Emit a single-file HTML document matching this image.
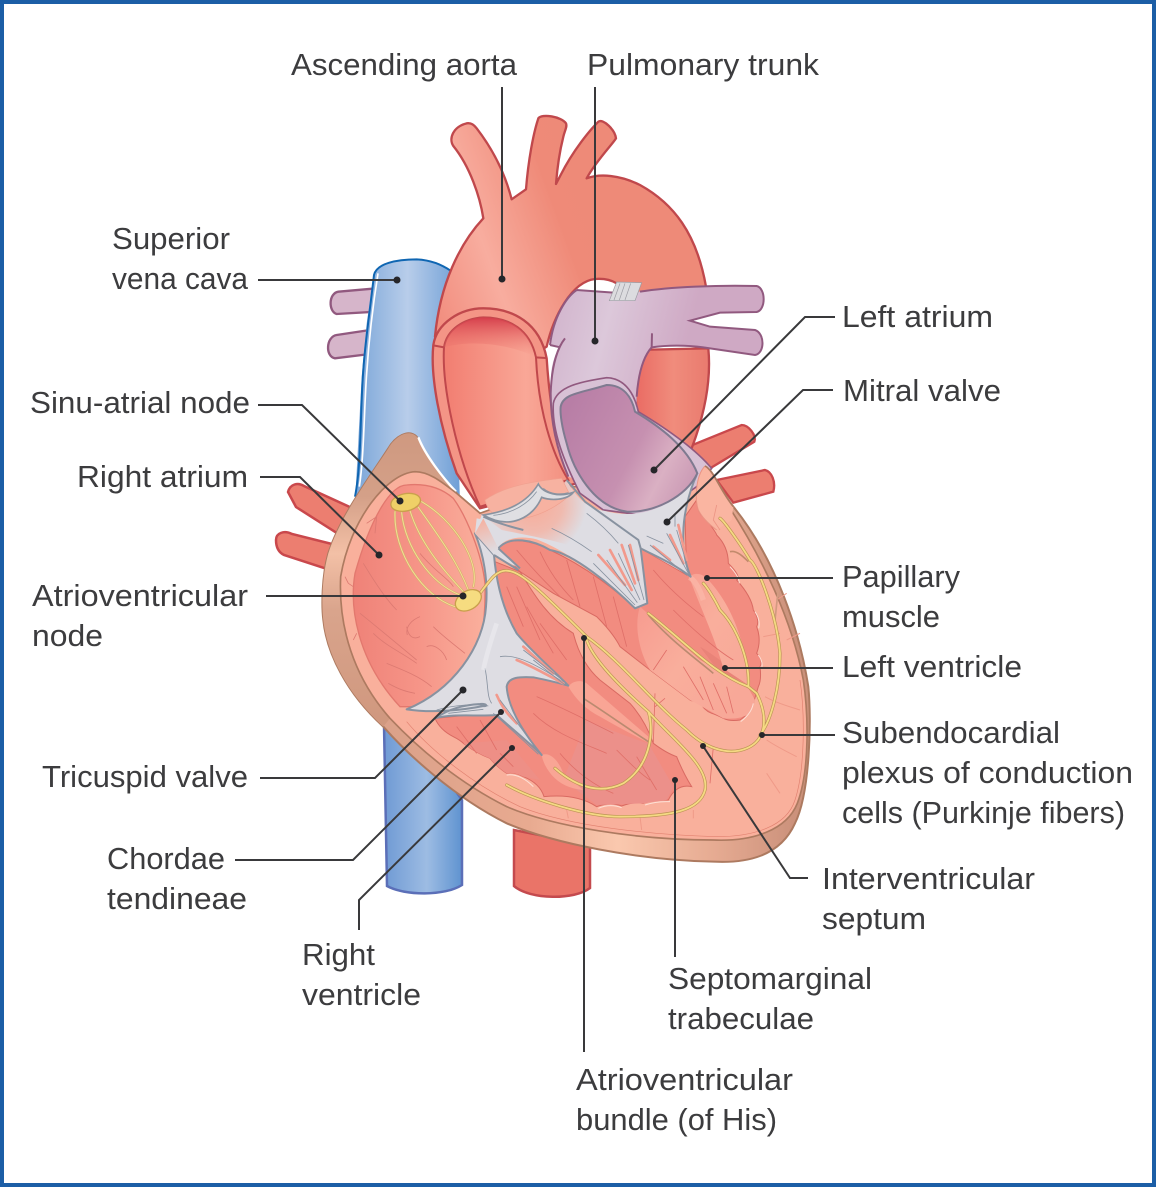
<!DOCTYPE html>
<html><head><meta charset="utf-8"><style>
html,body{margin:0;padding:0;background:#fff}
svg{display:block}
text{font-family:"Liberation Sans",sans-serif;font-size:31px;fill:#3c3c3e}
</style></head><body>
<svg width="1156" height="1187" viewBox="0 0 1156 1187" xmlns="http://www.w3.org/2000/svg">
<defs>
<linearGradient id="blue" x1="0" x2="1" y1="0" y2="0"><stop offset="0" stop-color="#7ba6d8"/><stop offset=".5" stop-color="#b8cdea"/><stop offset="1" stop-color="#6f9fd6"/></linearGradient>
<linearGradient id="blue2" x1="0" x2="1" y1="0" y2="0"><stop offset="0" stop-color="#6f9ad4"/><stop offset=".55" stop-color="#9dbce3"/><stop offset="1" stop-color="#5f93d0"/></linearGradient>
<linearGradient id="arch" gradientUnits="userSpaceOnUse" x1="350" y1="600" x2="900" y2="400"><stop offset="0" stop-color="#f28f80"/><stop offset=".34" stop-color="#f8ad9f"/><stop offset=".75" stop-color="#ef8a78"/><stop offset="1" stop-color="#ee8a78"/></linearGradient>
<linearGradient id="lumen" gradientUnits="userSpaceOnUse" x1="380" y1="900" x2="720" y2="900"><stop offset="0" stop-color="#f27f72"/><stop offset=".7" stop-color="#f9a797"/><stop offset="1" stop-color="#f49484"/></linearGradient>
<linearGradient id="lumtop" x1="0" x2="0" y1="0" y2="1"><stop offset="0" stop-color="#d53f4c"/><stop offset="1" stop-color="#ef7f74" stop-opacity="0"/></linearGradient>
<linearGradient id="desc" gradientUnits="userSpaceOnUse" x1="950" y1="900" x2="1170" y2="900"><stop offset="0" stop-color="#ea6c64"/><stop offset=".5" stop-color="#f08c7c"/><stop offset="1" stop-color="#e97a6e"/></linearGradient>
<linearGradient id="lil" gradientUnits="userSpaceOnUse" x1="700" y1="600" x2="1100" y2="700"><stop offset="0" stop-color="#d2b5cd"/><stop offset=".4" stop-color="#dcc8da"/><stop offset="1" stop-color="#cfa9c4"/></linearGradient>
<linearGradient id="purple" gradientUnits="userSpaceOnUse" x1="740" y1="900" x2="1120" y2="1100"><stop offset="0" stop-color="#b87ea6"/><stop offset=".55" stop-color="#c690b0"/><stop offset=".8" stop-color="#dab0c3"/><stop offset="1" stop-color="#cc9cb6"/></linearGradient>
<linearGradient id="rim" gradientUnits="userSpaceOnUse" x1="100" y1="0" x2="1420" y2="0"><stop offset="0" stop-color="#d89f88"/><stop offset=".4" stop-color="#e8aa90"/><stop offset=".6" stop-color="#fac8ae"/><stop offset=".82" stop-color="#e6ab92"/><stop offset="1" stop-color="#cc927c"/></linearGradient>
<linearGradient id="crest" gradientUnits="userSpaceOnUse" x1="0" y1="40" x2="0" y2="900"><stop offset="0" stop-color="#cf9980"/><stop offset=".22" stop-color="#d4a088"/><stop offset=".42" stop-color="#f3c0a6"/><stop offset=".62" stop-color="#d9a48c"/><stop offset="1" stop-color="#d0987f"/></linearGradient>
<linearGradient id="ra" gradientUnits="userSpaceOnUse" x1="100" y1="0" x2="500" y2="0"><stop offset="0" stop-color="#ef8278"/><stop offset=".5" stop-color="#f69588"/><stop offset="1" stop-color="#fab09d"/></linearGradient>
<radialGradient id="fade" gradientUnits="userSpaceOnUse" cx="640" cy="250" r="160"><stop offset="0" stop-color="#f8ab98"/><stop offset=".55" stop-color="#f8ab98" stop-opacity=".7"/><stop offset="1" stop-color="#f8ab98" stop-opacity="0"/></radialGradient>
<linearGradient id="fade2" gradientUnits="userSpaceOnUse" x1="470" y1="290" x2="510" y2="400"><stop offset="0" stop-color="#f8ab98"/><stop offset="1" stop-color="#f8ab98" stop-opacity="0"/></linearGradient>
<linearGradient id="pap" gradientUnits="userSpaceOnUse" x1="960" y1="560" x2="1280" y2="800"><stop offset="0" stop-color="#f79c90"/><stop offset=".5" stop-color="#f9ae9c"/><stop offset="1" stop-color="#f8a898"/></linearGradient>
</defs>
<rect x="2" y="2" width="1152" height="1183" fill="#fff" stroke="#1c5ea6" stroke-width="4"/>

<!-- IVC and descending aorta -->
<path d="M384 725 L387 886 C405 896 445 896 462 885 L462 800 L420 740 Z" fill="url(#blue2)" stroke="#5b6fb8" stroke-width="2.5"/>
<path d="M514 830 L514 886 C530 900 575 900 590 888 L590 845 Z" fill="#ea7468" stroke="#c44a4e" stroke-width="2.5"/>

<path d="M288 492 C290 484 298 482 304 486 L352 508 L340 535 L296 507 Z" fill="#ec7e70" stroke="#c9484c" stroke-width="2.5"/>
<path d="M276 540 C276 533 284 530 292 534 L340 546 L330 570 L284 555 C278 552 276 546 276 540 Z" fill="#ec7e70" stroke="#c9484c" stroke-width="2.5"/>

<g transform="translate(320,110) scale(.33333)">
 <path d="M170 535 L55 545 C25 550 25 605 50 612 L170 605 Z" fill="#d6b5ca" stroke="#91597f" stroke-width="7"/>
 <path d="M150 660 L50 675 C18 680 15 740 45 745 L150 732 Z" fill="#d6b5ca" stroke="#91597f" stroke-width="7"/>
 <path d="M162 490 C170 460 230 448 290 448 C340 450 370 465 400 485 L420 1180 L105 1180 L125 800 L140 640 Z" fill="url(#blue)"/>
 <path d="M105 1160 C125 1060 120 900 130 780 C135 700 150 600 162 495 C170 460 230 448 290 448 C335 450 365 465 392 482" fill="none" stroke="#0f66b2" stroke-width="6"/>
 <path d="M118 1130 C132 1040 132 900 140 790 C146 700 158 590 174 490" fill="none" stroke="#fff" stroke-width="5"/>
 <path d="M1105 1010 L1265 945 C1285 945 1310 975 1303 995 L1165 1078 Z" fill="#ec7e70" stroke="#c9484c" stroke-width="7"/>
 <path d="M1190 1110 L1335 1080 C1355 1085 1368 1115 1360 1145 L1240 1178 Z" fill="#ec7e70" stroke="#c9484c" stroke-width="7"/>
 <path d="M945 720 L1165 715 C1175 820 1150 930 1105 1040 L950 1000 Z" fill="url(#desc)" stroke="#c0484c" stroke-width="7"/>
 <path d="M345 680 C360 520 420 400 490 325 C480 260 450 170 400 108 C385 85 400 50 440 40 C455 38 462 45 470 55 C520 120 555 190 575 268 L618 238 C625 150 640 70 655 25 C665 10 725 20 738 40 C742 50 735 60 730 80 C720 120 712 170 708 222 L722 195 C760 120 810 60 835 35 C850 25 885 60 888 85 C880 100 830 150 800 205 C840 190 900 195 960 225 C1060 280 1130 370 1158 530 L1160 560 L960 560 L890 520 C870 508 850 505 825 507 C755 515 700 620 680 710 L600 760 L400 760 Z" fill="url(#arch)" stroke="#c0484c" stroke-width="7" stroke-linejoin="round"/>
</g>

<g transform="translate(320,420) scale(.33333)">
 <!-- outer wall -->
 <path d="M205 85 C225 50 265 25 290 50 C310 100 370 180 412 222 L480 280 L1130 160 L1155 138 C1180 150 1200 210 1240 260 C1370 420 1440 640 1465 800 C1475 900 1470 1120 1425 1210 C1380 1310 1280 1330 1180 1325 C950 1320 700 1270 560 1210 C400 1130 260 1000 190 920 C80 820 20 700 10 600 C5 560 5 470 25 400 C60 290 150 170 205 85 Z" fill="url(#rim)" stroke="#ad7a60" stroke-width="6"/>
 <path d="M205 85 C225 50 265 25 290 50 C310 100 370 180 412 222 L285 155 C200 160 90 300 60 470 C55 620 100 770 210 895 L190 920 C80 820 20 700 10 600 C5 560 5 470 25 400 C60 290 150 170 205 85 Z" fill="url(#crest)"/>
 <path d="M295 52 C315 105 370 175 408 215" fill="none" stroke="#fff" stroke-width="7"/>
 <!-- inner wall -->
 <path d="M285 155 C200 160 90 300 62 470 C55 620 100 770 210 895 C300 990 420 1090 560 1160 C700 1220 950 1260 1180 1260 C1300 1265 1400 1230 1432 1150 C1470 1050 1465 880 1450 780 C1420 620 1340 420 1180 190 L1155 140 L1100 200 L700 200 L480 280 L410 220 C370 190 330 155 285 155 Z" fill="#f9b09c" stroke="#ad7a60" stroke-width="5"/>
 <path d="M260 905 C340 1000 470 1100 600 1160 C750 1220 1000 1245 1190 1250 C1300 1250 1400 1220 1425 1140 C1455 1050 1455 880 1440 780" fill="none" stroke="#e0806f" stroke-width="2"/>
 <!-- right atrium -->
 <path d="M260 195 C210 195 150 300 105 460 C88 560 110 720 240 860 L300 860 L440 780 C480 700 498 620 495 490 C485 400 440 290 400 235 C360 200 310 190 260 195 Z" fill="url(#ra)" stroke="#e2786e" stroke-width="4"/>
 <g fill="none" stroke="#dc7a72" stroke-width="2.5">
  <path d="M130 430 C160 480 200 540 230 570 M120 580 C170 620 230 670 290 720 M200 730 C250 750 300 770 335 800 M160 640 C200 680 250 700 290 730 M340 620 C370 650 410 680 435 700 M260 620 C265 650 280 660 300 650 M300 590 C275 600 255 620 262 645 M320 680 C340 670 370 690 380 720 M205 790 C240 810 260 815 285 820 M300 400 C340 450 390 480 400 500"/>
  <path d="M100 500 L85 490 M75 470 L85 490 M110 640 L100 660 M140 310 L170 290 L165 340"/>
 </g>
</g>

<g transform="translate(320,110) scale(.33333)">
 <!-- ascending aorta -->
 <path d="M340 705 C330 800 360 950 410 1090 L480 1195 L770 1120 C710 1010 690 900 680 745 C660 640 580 595 490 595 C420 595 350 640 340 705 Z" fill="#f49586" stroke="#c0484c" stroke-width="7"/>
 <path d="M372 712 C365 830 410 1040 480 1190 L745 1110 C695 1030 655 900 648 742 C630 660 570 622 490 622 C430 625 380 660 372 712 Z" fill="url(#lumen)" stroke="#c0484c" stroke-width="6"/>
 <path d="M372 712 C380 660 430 625 490 622 C570 622 630 660 645 740 C560 700 450 690 372 712 Z" fill="url(#lumtop)"/>
 <path d="M340 706 L372 712 M646 742 L678 744" stroke="#c0484c" stroke-width="6"/>
 <!-- pulmonary -->
 <path d="M690 705 C700 620 740 560 770 540 L880 548 L960 545 C1050 530 1200 525 1310 528 C1338 535 1338 600 1310 606 L1200 608 L1110 632 L1170 650 L1305 660 C1335 670 1335 730 1305 735 L1150 712 C1100 705 1040 705 995 712 C970 740 955 790 950 860 L950 900 L800 1120 L745 1100 C715 1020 695 950 693 850 C690 790 695 745 720 712 Z" fill="url(#lil)"/>
 <path d="M690 705 L720 712 M735 685 C715 710 695 760 692 850 C692 950 715 1030 745 1100 M770 540 C740 560 700 620 690 705 M770 540 L880 548 M960 545 C1050 530 1200 525 1310 528 C1338 535 1338 600 1310 606 L1200 608 L1110 632 L1170 650 L1305 660 C1335 670 1335 730 1305 735 L1150 712 C1100 705 1040 705 995 712 C970 740 955 790 950 860 M996 670 L995 712" fill="none" stroke="#91597f" stroke-width="6"/>
 <path d="M890 516 L965 518 L945 572 L868 572 Z" fill="#dcdcdf" stroke="#9b9ba3" stroke-width="2"/>
 <path d="M900 520 L882 570 M915 520 L898 570 M932 520 L915 570" stroke="#9b9ba3" stroke-width="2"/>
 <!-- LA rim -->
 <path d="M700 880 C710 830 780 815 860 803 C920 805 945 860 955 905 C1030 950 1120 1010 1175 1075 L1130 1130 L1000 1220 L850 1200 L780 1150 C730 1050 695 960 700 880 Z" fill="#d8c1d5" stroke="#91597f" stroke-width="5"/>
</g>

<g transform="translate(320,420) scale(.33333)">
 <!-- LV cavity -->
 <path d="M535 385 C570 345 640 365 690 390 C800 440 900 520 945 565 L962 385 L1100 465 L1095 290 L1130 240 Q1130 280 1160 300 Q1190 340 1190 345 Q1225 380 1225 430 Q1265 470 1250 480 Q1295 530 1300 570 Q1320 600 1310 620 Q1325 660 1310 700 Q1330 720 1320 740 Q1325 780 1315 800 L1300 850 Q1290 880 1260 900 Q1230 905 1210 895 Q1190 885 1175 880 Q1150 870 1140 845 Q1120 845 1110 840 L990 750 L900 680 Q880 640 830 590 L700 520 L600 455 Z" fill="#f28c80" stroke="#d96a62" stroke-width="3"/>
 <path d="M1140 680 C1190 710 1240 750 1280 790 L1200 760 Z" fill="#e98378"/>
 <!-- RV cavity -->
 <path d="M525 425 L600 455 C640 520 680 590 760 640 C775 700 800 745 840 780 L930 850 Q975 900 1000 970 Q1040 1000 1070 1010 Q1090 1060 1115 1100 Q1070 1090 1045 1140 Q1000 1140 970 1150 Q940 1145 905 1158 Q870 1145 830 1160 Q770 1120 672 1130 Q660 1090 610 1070 Q580 1055 560 1060 Q530 1040 510 1015 Q470 1000 430 970 Q420 960 400 950 Q360 930 345 895 L500 880 L560 800 Z" fill="#f28c80" stroke="#d96a62" stroke-width="3"/>
 <path d="M800 900 C870 930 950 960 985 970 L1060 1100 L1040 1140 L970 1150 L830 1155 L730 1080 Z" fill="#ec908a"/>
 <path d="M510 1015 Q470 1000 430 970 L560 960 L660 1080 L610 1070 Q580 1055 560 1060 Q530 1040 510 1015 Z" fill="#ee8f86"/>
 <!-- papillary muscles -->
 <path d="M960 560 L1140 720 L1280 795 L1305 840 L1290 880 Q1260 900 1210 895 L1110 840 L990 750 C960 700 940 620 960 560 Z" fill="url(#pap)"/>
 <path d="M1108 472 C1120 455 1150 460 1165 480 C1240 560 1280 680 1285 795 L1210 745 C1180 640 1140 560 1108 472 Z" fill="url(#pap)"/>
 <path d="M745 800 C760 780 785 780 800 790 L985 950 L985 968 Q900 925 840 890 Q780 860 745 800 Z" fill="#f9a595"/>
 <path d="M665 1005 C690 995 715 1020 730 1060 L790 1110 Q730 1105 695 1065 Q670 1035 665 1005 Z" fill="#f9a595"/>
 <path d="M1108 472 C1125 480 1140 510 1150 540" stroke="#fbbcae" stroke-width="16" fill="none" opacity=".6"/>
 <!-- trabeculae lines -->
 <g fill="none" stroke="#df6f68" stroke-width="2.5">
  <path d="M590 390 C640 450 680 490 720 530 M660 395 C690 460 730 510 760 540 M740 420 L780 560 M820 470 L860 620 M880 530 L920 680 M560 500 L610 620 M590 500 L660 660 M620 560 L700 700 M660 610 L740 720 M1000 450 C1050 510 1110 560 1150 590 M1060 570 C1120 630 1190 690 1240 720 M1040 690 L1000 750 M1090 740 L1150 840 M1140 770 L1180 870 M1180 790 L1220 880 M1220 800 L1240 880"/>
  <path d="M650 830 C720 860 800 900 880 940 M640 880 C700 940 790 970 860 1000 M720 1000 C770 1060 830 1100 880 1120 M890 990 C930 1030 960 1060 990 1080 M950 1010 L1010 1110 M410 920 L470 1000 M480 900 L530 990 M540 1000 L580 1040 M1000 970 L1005 820 M1005 860 L1035 835 M1180 980 L1170 1090"/>
 </g>
 <g fill="none" stroke="#ef9a88" stroke-width="3">
  <path d="M1335 830 C1370 850 1410 860 1440 870 M1340 960 C1370 980 1410 1000 1430 1010 M1340 1060 L1380 1120 M1400 660 L1440 640 M1370 540 L1400 520 M1330 650 L1380 640 M1320 740 L1380 745"/>
  <path d="M740 1170 L745 1195 M960 1190 L965 1230 M1120 1170 L1120 1195"/>
 </g>
 <path d="M1230 395 C1250 390 1270 410 1285 425" fill="none" stroke="#c28a6c" stroke-width="5"/>
 <path d="M1375 505 L1365 600" fill="none" stroke="#d29a80" stroke-width="5"/>
 <path d="M790 835 C860 880 930 930 985 965" fill="none" stroke="#bb8a70" stroke-width="5"/>
 <path d="M985 585 C1050 660 1120 710 1180 760" fill="none" stroke="#bb8a70" stroke-width="5"/>
 <!-- gray skeleton -->
 <path d="M485 285 C560 330 640 300 740 180 C770 240 810 265 850 272 C950 300 1060 270 1130 165 C1105 220 1090 290 1090 340 C1088 390 1095 430 1112 470 L962 385 L982 550 L945 565 C880 500 760 400 650 358 C600 345 550 355 535 385 L600 445 L520 405 L465 340 Z" fill="#dedde3"/>
 <path d="M485 285 C560 330 640 300 740 180 L795 245 C810 300 790 350 760 380 C700 360 620 345 545 330 Z" fill="url(#fade)"/>
 <path d="M490 290 C520 305 570 320 610 330 M740 180 L795 245 L955 360 L962 385 L982 550 L945 565 C880 500 760 400 690 390 C640 360 570 345 535 385 L600 445 M522 405 L595 450 M962 385 C1010 410 1060 430 1112 470 C1095 430 1088 390 1090 340 C1090 290 1105 220 1130 165" fill="none" stroke="#8892a0" stroke-width="6" stroke-linejoin="round"/>
 <path d="M465 340 C490 400 505 480 498 560 C490 680 400 810 260 868 C340 880 430 870 490 858 C505 860 500 850 480 852 C430 855 390 865 345 895 C400 880 470 890 530 885 C580 930 630 970 665 1005 C620 950 565 870 560 800 C565 770 600 770 640 772 C680 780 720 790 745 797 C700 750 630 690 590 640 C555 580 530 500 522 405 Z" fill="#dedde3" stroke="#8892a0" stroke-width="6" stroke-linejoin="round"/>
 <path d="M470 295 L500 300 L535 385 L522 405 L465 340 Z" fill="#dedde3"/>
 <path d="M465 340 L522 405 L535 385 L490 295 Z" fill="url(#fade2)"/>
 <path d="M495 745 C505 790 500 830 515 850 M540 710 C590 700 660 740 735 790 M350 870 C400 855 470 850 505 858 M385 880 L490 868" fill="none" stroke="#8892a0" stroke-width="2.5"/>
 <path d="M490 750 C500 700 520 640 530 610" fill="none" stroke="#f0eff3" stroke-width="14" opacity=".5"/>
 <g fill="none" stroke="#f2998c" stroke-width="8" stroke-linecap="round">
  <path d="M835 405 L915 495 M870 390 L935 510 M905 375 L945 490 M930 375 L955 480 M1000 380 L1050 420 M1050 345 L1090 430 M1075 315 L1100 420 M590 720 C640 740 690 770 730 790 M610 680 L700 760 M530 825 C550 870 570 890 590 910"/>
 </g>
 <g fill="none" stroke="#8892a0" stroke-width="2.5">
  <path d="M820 430 L945 555 M860 420 L952 548 M895 400 L960 540 M925 375 L972 540 M990 375 L1100 465 M1040 340 L1105 460 M1070 330 L1110 465 M610 690 L740 790 M640 720 L738 797 M540 840 L660 1000 M520 880 L655 1003 M695 325 C740 345 780 370 815 395 M800 280 C840 310 870 340 895 370 M980 348 L1030 370 M1065 280 L1065 320"/>
 </g>
</g>

<g transform="translate(320,110) scale(.33333)">
 <path d="M722 890 C730 850 780 850 860 825 C910 825 935 860 945 905 C1020 950 1100 1010 1132 1090 C1100 1160 1000 1210 920 1205 C820 1190 760 1080 740 1000 C725 950 720 910 722 890 Z" fill="url(#purple)" stroke="#7f7a90" stroke-width="6"/>
</g>

<g transform="translate(320,420) scale(.33333)">
 <!-- aortic cusps -->
 <path d="M495 240 C560 195 640 185 725 175 L750 225 C700 270 620 310 540 295 C520 285 500 265 495 240 Z" fill="#f7b2a1" stroke="#f0a08f" stroke-width="2"/>
 <path d="M490 285 C560 275 620 250 655 192 C670 222 720 232 760 217 C740 242 690 242 665 232 C640 292 570 332 490 285 Z" fill="#dfdfe3" stroke="#8a93a0" stroke-width="5"/>
 <path d="M520 286 C580 280 625 250 650 215 M670 205 C690 222 720 225 745 218" fill="none" stroke="#8a93a0" stroke-width="2.5"/>
 <!-- LV wall wedge -->
 <path d="M1155 138 C1125 170 1125 240 1135 270 Q1150 300 1190 330 L1235 300 L1240 260 C1200 210 1180 150 1155 138 Z" fill="#fab5a1"/>
 <path d="M1155 138 C1125 170 1125 240 1135 270 Q1150 300 1190 330" fill="none" stroke="#eb9484" stroke-width="3"/>
 <path d="M1155 138 C1180 150 1200 210 1240 260" fill="none" stroke="#ad7a60" stroke-width="5"/>
 <path d="M1190 255 L1180 300 L1200 330" fill="none" stroke="#eb9484" stroke-width="2.5"/>
 <!-- scallop highlights -->
 <g fill="none" stroke="#fde0d6" stroke-width="3">
  <path d="M1230 440 Q1258 470 1258 490 M1305 575 Q1322 600 1316 625 M1315 705 Q1330 725 1325 745 M1300 850 Q1295 880 1262 905 M560 1065 Q600 1060 640 1100 M835 1165 Q870 1150 905 1163 M975 1155 Q1010 1143 1050 1145"/>
 </g>
 <!-- conduction -->
 <g fill="none" stroke-linecap="round">
  <g stroke="#bd9455" stroke-width="9.5">
   <path d="M480 520 C510 480 530 450 560 452 C600 455 640 490 800 650 C900 720 1000 850 1100 930 C1150 980 1220 1010 1280 985 C1340 960 1345 890 1310 820 L1285 800 C1180 760 1100 670 985 580"/>
   <path d="M1285 800 C1290 720 1250 620 1200 570 C1180 530 1160 500 1150 490 M1320 945 C1355 900 1380 800 1380 700 C1370 580 1310 430 1290 420 C1260 370 1210 300 1200 295"/>
   <path d="M800 660 C820 720 900 800 985 875 C1000 920 1000 1030 910 1090 C850 1120 780 1110 705 1045 M985 875 C1060 960 1170 1040 1155 1110 C1140 1170 1060 1190 900 1190 C800 1190 640 1140 560 1095"/>
  </g>
  <g stroke="#f5d983" stroke-width="5.5">
   <path d="M480 520 C510 480 530 450 560 452 C600 455 640 490 800 650 C900 720 1000 850 1100 930 C1150 980 1220 1010 1280 985 C1340 960 1345 890 1310 820 L1285 800 C1180 760 1100 670 985 580"/>
   <path d="M1285 800 C1290 720 1250 620 1200 570 C1180 530 1160 500 1150 490 M1320 945 C1355 900 1380 800 1380 700 C1370 580 1310 430 1290 420 C1260 370 1210 300 1200 295"/>
   <path d="M800 660 C820 720 900 800 985 875 C1000 920 1000 1030 910 1090 C850 1120 780 1110 705 1045 M985 875 C1060 960 1170 1040 1155 1110 C1140 1170 1060 1190 900 1190 C800 1190 640 1140 560 1095"/>
  </g>
  <g stroke="#d4b06c" stroke-width="6.5">
   <path d="M225 275 C220 400 310 530 405 560 M245 278 C255 380 330 490 420 525 M270 272 C300 370 370 450 430 515 M295 262 C350 340 410 420 445 510 M305 245 C400 300 480 420 460 500"/>
  </g>
  <g stroke="#f4dc94" stroke-width="3">
   <path d="M225 275 C220 400 310 530 405 560 M245 278 C255 380 330 490 420 525 M270 272 C300 370 370 450 430 515 M295 262 C350 340 410 420 445 510 M305 245 C400 300 480 420 460 500"/>
  </g>
 </g>
 <ellipse cx="257" cy="247" rx="45" ry="26" transform="rotate(-12 257 247)" fill="#efd067" stroke="#c9a04c" stroke-width="4"/>
 <ellipse cx="445" cy="541" rx="42" ry="28" transform="rotate(-30 445 541)" fill="#f6dc80" stroke="#c9a04c" stroke-width="4"/>
</g>

<!-- leader lines -->
<g fill="none" stroke="#39393b" stroke-width="2">
 <path d="M502 87V279M595 87V341M258 280H397M835 317H805L654 470M833 390H803L667 522M258 405H302L400 501M260 477H300L379 555M266 596H463M833 578H707M833 668H725M835 735H762M808 878H790L703 746M675 957V780M584 1052V638M359 930V900L512 748M235 860H353L501 712M260 778H375L463 690"/>
</g>
<g fill="#26262a">
 <circle cx="502" cy="279" r="3.5"/><circle cx="595" cy="341" r="3.5"/><circle cx="397" cy="280" r="3.5"/><circle cx="654" cy="470" r="3.5"/><circle cx="667" cy="522" r="3.5"/><circle cx="400" cy="501" r="3.5"/><circle cx="379" cy="555" r="3.5"/><circle cx="463" cy="596" r="3.5"/><circle cx="707" cy="578" r="3"/><circle cx="725" cy="668" r="3"/><circle cx="762" cy="735" r="3"/><circle cx="703" cy="746" r="3"/><circle cx="675" cy="780" r="3"/><circle cx="584" cy="638" r="3"/><circle cx="512" cy="748" r="3"/><circle cx="501" cy="712" r="3"/><circle cx="463" cy="690" r="3.5"/>
</g>

<!-- labels -->
<g>
<text x="291" y="75" textLength="226" lengthAdjust="spacingAndGlyphs">Ascending aorta</text>
<text x="587" y="75" textLength="232" lengthAdjust="spacingAndGlyphs">Pulmonary trunk</text>
<text x="112" y="249" textLength="118" lengthAdjust="spacingAndGlyphs">Superior</text>
<text x="112" y="289" textLength="136" lengthAdjust="spacingAndGlyphs">vena cava</text>
<text x="30" y="413" textLength="220" lengthAdjust="spacingAndGlyphs">Sinu-atrial node</text>
<text x="77" y="487" textLength="171" lengthAdjust="spacingAndGlyphs">Right atrium</text>
<text x="32" y="606" textLength="216" lengthAdjust="spacingAndGlyphs">Atrioventricular</text>
<text x="32" y="646" textLength="71" lengthAdjust="spacingAndGlyphs">node</text>
<text x="42" y="787" textLength="206" lengthAdjust="spacingAndGlyphs">Tricuspid valve</text>
<text x="107" y="869" textLength="118" lengthAdjust="spacingAndGlyphs">Chordae</text>
<text x="107" y="909" textLength="140" lengthAdjust="spacingAndGlyphs">tendineae</text>
<text x="302" y="965" textLength="73" lengthAdjust="spacingAndGlyphs">Right</text>
<text x="302" y="1005" textLength="119" lengthAdjust="spacingAndGlyphs">ventricle</text>
<text x="576" y="1090" textLength="217" lengthAdjust="spacingAndGlyphs">Atrioventricular</text>
<text x="576" y="1130" textLength="201" lengthAdjust="spacingAndGlyphs">bundle (of His)</text>
<text x="668" y="989" textLength="204" lengthAdjust="spacingAndGlyphs">Septomarginal</text>
<text x="668" y="1029" textLength="146" lengthAdjust="spacingAndGlyphs">trabeculae</text>
<text x="822" y="889" textLength="213" lengthAdjust="spacingAndGlyphs">Interventricular</text>
<text x="822" y="929" textLength="104" lengthAdjust="spacingAndGlyphs">septum</text>
<text x="842" y="743" textLength="218" lengthAdjust="spacingAndGlyphs">Subendocardial</text>
<text x="842" y="783" textLength="291" lengthAdjust="spacingAndGlyphs">plexus of conduction</text>
<text x="842" y="823" textLength="283" lengthAdjust="spacingAndGlyphs">cells (Purkinje fibers)</text>
<text x="842" y="677" textLength="180" lengthAdjust="spacingAndGlyphs">Left ventricle</text>
<text x="842" y="587" textLength="118" lengthAdjust="spacingAndGlyphs">Papillary</text>
<text x="842" y="627" textLength="98" lengthAdjust="spacingAndGlyphs">muscle</text>
<text x="843" y="401" textLength="158" lengthAdjust="spacingAndGlyphs">Mitral valve</text>
<text x="842" y="327" textLength="151" lengthAdjust="spacingAndGlyphs">Left atrium</text>
</g>
</svg>
</body></html>
